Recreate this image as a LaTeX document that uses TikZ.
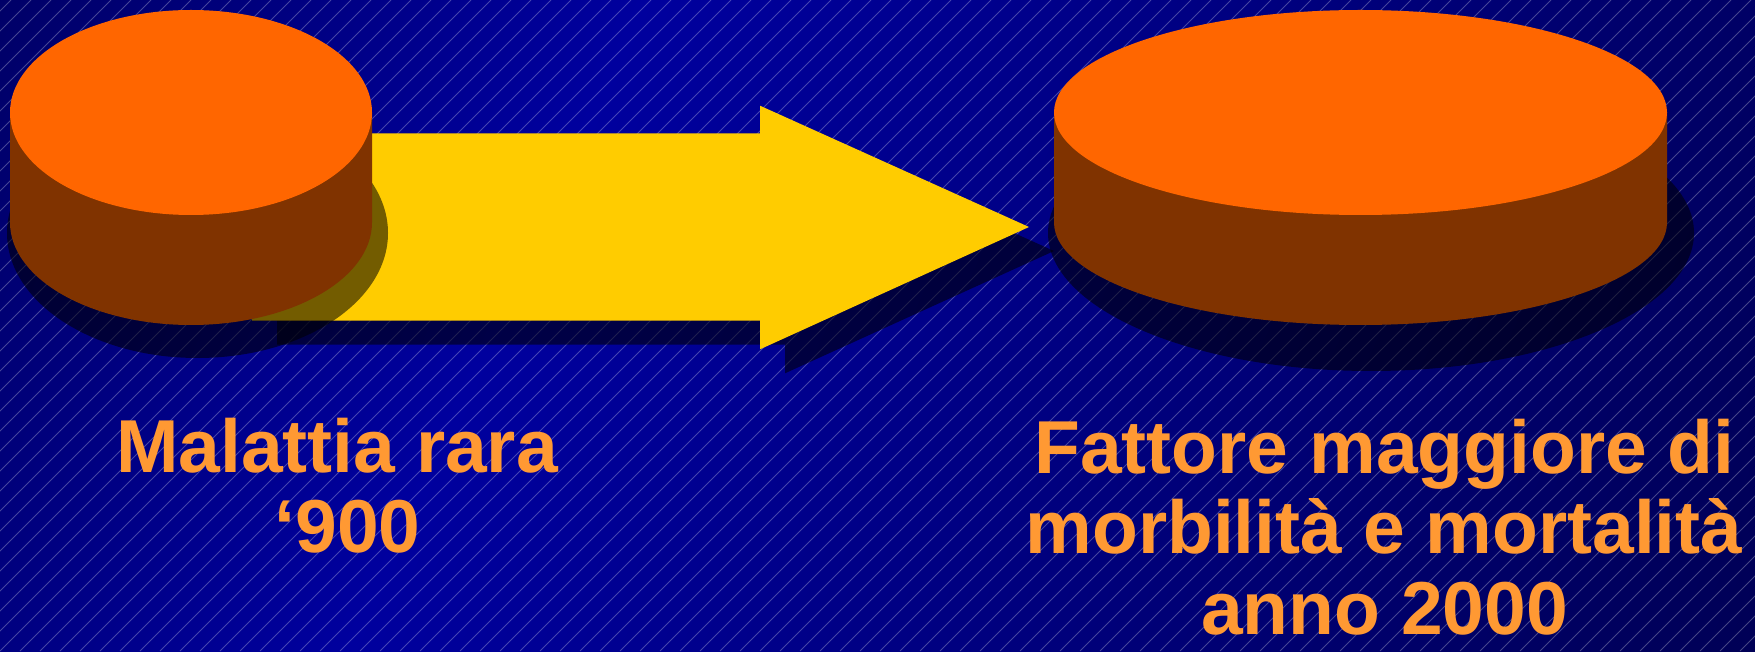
\documentclass[tikz,border=0pt]{standalone}
\usepackage{fontspec}
\setmainfont{Liberation Sans}
\definecolor{bgA}{RGB}{0,0,80}
\definecolor{bgB}{RGB}{0,0,104}
\definecolor{bgC}{RGB}{0,0,158}
\definecolor{bgD}{RGB}{0,0,120}
\definecolor{bgE}{RGB}{0,0,86}
\definecolor{bgF}{RGB}{0,0,70}
\definecolor{topc}{RGB}{255,102,0}
\definecolor{sidec}{RGB}{128,51,0}
\definecolor{arrowc}{RGB}{255,204,0}
\definecolor{textc}{RGB}{255,153,51}
\pgfdeclarehorizontalshading{bgshade}{100bp}{color(0bp)=(bgA); color(16.9bp)=(bgB); color(37.6bp)=(bgC); color(62.4bp)=(bgD); color(83.1bp)=(bgE); color(100bp)=(bgF)}
\tikzset{
  stripe/.style={draw=white, draw opacity=0.27, line width=0.9pt},
  shadowfill/.style={fill=black, fill opacity=0.55},
  topfill/.style={fill=topc},
  sidefill/.style={fill=sidec},
  arrowfill/.style={fill=arrowc},
  lbl/.style={text=textc, inner sep=0pt, anchor=base, font=\fontsize{75}{82}\selectfont\bfseries}
}
\begin{document}
\begin{tikzpicture}[x=1pt,y=1pt]
\useasboundingbox (0,0) rectangle (1755,651);
% background
\shade[shading=bgshade, shading angle=-24.5] (0,0) rectangle (1755,651);
\begin{scope}
  \clip (0,0) rectangle (1755,651);
  \foreach \i in {-34,...,88} \draw[stripe] ({\i*20},0) -- ++(651,651);
\end{scope}
% arrow shadow
\begin{scope}[shift={(25,-24)}]
  \fill[shadowfill] (252,330.3) -- (760,330.3) -- (760,301.7) -- (1029,424) -- (760,545.3) -- (760,517.7) -- (252,517.7) -- cycle;
\end{scope}
% arrow
\fill[arrowfill] (252,330.3) -- (760,330.3) -- (760,301.7) -- (1029,424) -- (760,545.3) -- (760,517.7) -- (252,517.7) -- cycle;
% cylinder shadows
\fill[shadowfill] (197.5,418) ellipse [x radius=190.5, y radius=125];
\fill[shadowfill] (1371,418) ellipse [x radius=323, y radius=138];
% left cylinder
\fill[sidefill] (10,538.5) -- (10,428.5) arc[start angle=180, end angle=360, x radius=181, y radius=102.5] -- (372,538.5) -- cycle;
\fill[topfill] (191,538.5) ellipse [x radius=181, y radius=102.5];
% right cylinder
\fill[sidefill] (1054,538.5) -- (1054,428.5) arc[start angle=180, end angle=360, x radius=306.5, y radius=102.5] -- (1667,538.5) -- cycle;
\fill[topfill] (1360.5,538.5) ellipse [x radius=306.5, y radius=102.5];
% labels
\node[lbl] (rareA) at (337,179) {Malattia rara};
\node[lbl] (rareB) at (347.5,99) {‘900};
\node[lbl] (factA) at (1384.5,178) {Fattore maggiore di};
\node[lbl] (factB) at (1384,97.5) {morbilità e mortalità};
\node[lbl] (factC) at (1384.5,17) {anno 2000};
\end{tikzpicture}
\end{document}
